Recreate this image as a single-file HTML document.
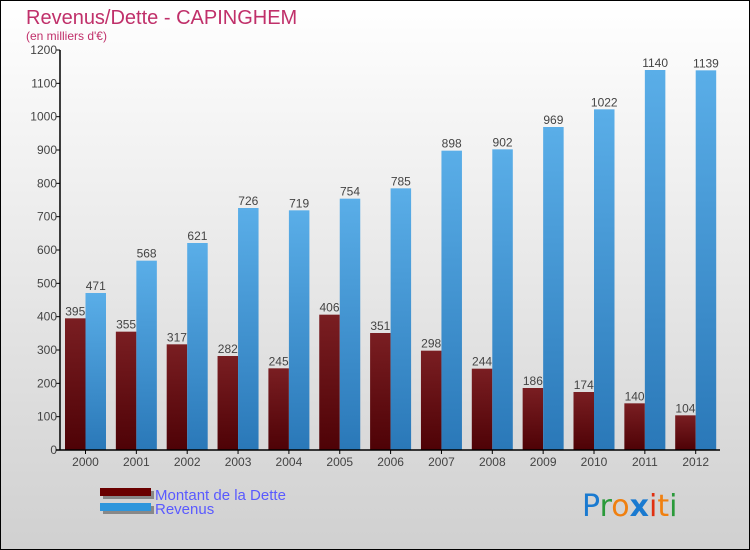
<!DOCTYPE html>
<html><head><meta charset="utf-8"><style>
body{margin:0}
svg{display:block;font-family:"Liberation Sans",sans-serif}
</style></head><body>
<svg width="750" height="550">
<defs>
<linearGradient id="bg" x1="0" y1="0" x2="0" y2="1"><stop offset="0" stop-color="#ffffff"/><stop offset="1" stop-color="#d0d0d0"/></linearGradient>
<linearGradient id="gd" x1="0" y1="0" x2="0" y2="1"><stop offset="0" stop-color="#7a1e22"/><stop offset="1" stop-color="#4e0206"/></linearGradient>
<linearGradient id="gr" x1="0" y1="0" x2="0" y2="1"><stop offset="0" stop-color="#5aaee8"/><stop offset="1" stop-color="#2a78b8"/></linearGradient>
</defs>
<rect x="0.5" y="0.5" width="749" height="549" fill="url(#bg)" stroke="#000"/>
<text x="26" y="24" font-size="20" fill="#c0306a">Revenus/Dette - CAPINGHEM</text>
<text x="26" y="40" font-size="12" fill="#c0306a">(en milliers d'€)</text>
<g id="plot"></g>
<g>
<rect x="103" y="491" width="51" height="8" fill="#888"/>
<rect x="100" y="488" width="51" height="8" fill="#6a0000"/>
<text x="155" y="500" font-size="15" fill="#5a5aff">Montant de la Dette</text>
<rect x="103" y="506" width="51" height="8" fill="#888"/>
<rect x="100" y="503" width="51" height="8" fill="#2e96dc"/>
<text x="155" y="514" font-size="15" fill="#5a5aff">Revenus</text>
</g>
<g font-size="30" font-family="'DejaVu Sans',sans-serif">
<text x="582" y="516"><tspan fill="#1a7ad0">P</tspan><tspan fill="#2a9a3a">r</tspan><tspan fill="#f08010">o</tspan><tspan fill="#1a7ad0" font-weight="bold">x</tspan><tspan fill="#e03010">i</tspan><tspan fill="#f08010">t</tspan><tspan fill="#2a9a3a">i</tspan></text>
</g>
</svg>
<script>
const years=["2000","2001","2002","2003","2004","2005","2006","2007","2008","2009","2010","2011","2012"];
const dette=[395,355,317,282,245,406,351,298,244,186,174,140,104];
const revenus=[471,568,621,726,719,754,785,898,902,969,1022,1140,1139];
const yTicks=[0,100,200,300,400,500,600,700,800,900,1000,1100,1200];
const NS="http://www.w3.org/2000/svg";
const g=document.getElementById('plot');
const y0=450,yTop=50,yMax=1200,x0=60,step=50.85;
const Y=v=>y0-(v/yMax)*(y0-yTop);
const X=i=>x0+5+i*step;
function mk(t,a){const e=document.createElementNS(NS,t);for(const k in a)e.setAttribute(k,a[k]);g.appendChild(e);return e;}
yTicks.forEach(v=>{
 const l=mk('line',{x1:x0-4,x2:x0,y1:Y(v),y2:Y(v),stroke:'#000'});
 
 
 const t=mk('text',{x:x0-3,y:Y(v)+4,'font-size':12,'text-anchor':'end',fill:'#444'});
 t.textContent=v;
 
 
});
years.forEach((yr,i)=>{
 const x=X(i),w=20.5;
 const b1=mk('rect',{x:x,y:Y(dette[i]),width:w,height:y0-Y(dette[i]),fill:'url(#gd)'});
 
 
 const b2=mk('rect',{x:x+w,y:Y(revenus[i]),width:w,height:y0-Y(revenus[i]),fill:'url(#gr)'});
 
 
 const t1=mk('text',{x:x+w/2,y:Y(dette[i])-3,'font-size':12,'text-anchor':'middle',fill:'#444'});
 t1.textContent=dette[i];
 
 
 const t2=mk('text',{x:x+w*1.5,y:Y(revenus[i])-3,'font-size':12,'text-anchor':'middle',fill:'#444'});
 t2.textContent=revenus[i];
 
 
 const tk=mk('line',{x1:x+w,x2:x+w,y1:y0,y2:y0+4,stroke:'#000'});
 
 
 const tl=mk('text',{x:x+w,y:y0+16,'font-size':12,'text-anchor':'middle',fill:'#444'});
 tl.textContent=yr;
 
 
});
const ya=mk('line',{x1:x0,x2:x0,y1:yTop,y2:y0,stroke:'#000','stroke-width':1.5});


const xa=mk('line',{x1:x0-4,x2:720,y1:y0,y2:y0,stroke:'#000','stroke-width':1.5});


</script>
</body></html>
